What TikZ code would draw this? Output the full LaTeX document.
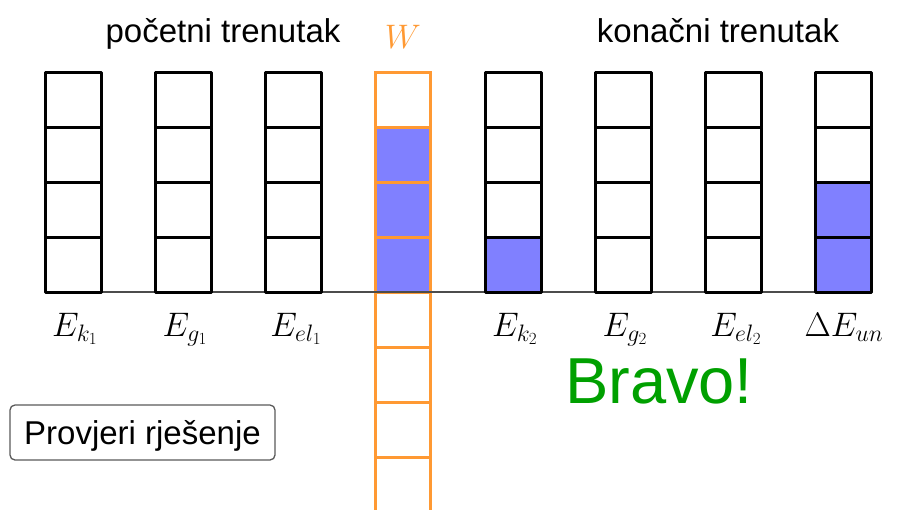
\RequirePackage{fix-cm}
\documentclass[tikz,border=0pt]{standalone}
\usepackage{fontspec}
\setmainfont{Liberation Sans}
\definecolor{wOrange}{RGB}{255,153,51}
\definecolor{fillBlue}{RGB}{128,128,255}
\definecolor{bravoGreen}{RGB}{0,160,0}
\begin{document}
\begin{tikzpicture}[x=1pt,y=-1pt,
  cellbox/.style={draw=black,line width=3pt,line join=round},
  wbox/.style={draw=wOrange,line width=3pt},
  filled/.style={fill=fillBlue},
  mathlabel/.style={anchor=base,font=\fontsize{34}{40}\selectfont},
  title/.style={anchor=base,font=\fontsize{33}{40}\selectfont},
  button/.style={draw=black!65,rounded corners=5pt,line width=1.3pt,minimum width=265pt,minimum height=55pt,inner sep=0pt,text depth=0pt,font=\fontsize{33}{40}\selectfont}]
\useasboundingbox (0,0) rectangle (902,509);
% fills
\fill[filled] (375,127) rectangle (430,292);
\fill[filled] (485,237) rectangle (541,292);
\fill[filled] (815,182) rectangle (871,292);
% W column
\foreach \y in {72,127,182,237,292,347,402,457}
  \draw[wbox] (375,\y) rectangle ++(55,55);
% baseline
\draw[black!70,line width=2pt] (45,292) -- (871,292);
% energy columns
\foreach \x in {45,155,265,485,595,705,815}
  \foreach \y in {72,127,182,237}
    \draw[cellbox] (\x,\y) rectangle ++(56,55);
% titles
\node[title] (poc) at (223,42) {početni trenutak};
\node[title] (kon) at (718,42) {konačni trenutak};
\node[mathlabel,text=wOrange] (w) at (403,48) {$W$};
% labels
\node[mathlabel] (ek1) at (75,336) {$E_{k_1}$};
\node[mathlabel] (eg1) at (185,336) {$E_{g_1}$};
\node[mathlabel] (eel1) at (296,336) {$E_{el_1}$};
\node[mathlabel] (ek2) at (515,336) {$E_{k_2}$};
\node[mathlabel] (eg2) at (625,336) {$E_{g_2}$};
\node[mathlabel] (eel2) at (736,336) {$E_{el_2}$};
\node[mathlabel] (deun) at (844,336) {$\Delta E_{un}$};
% bravo
\node[anchor=base,text=bravoGreen,font=\fontsize{65}{78}\selectfont] (bravo) at (659,403) {Bravo!};
% button
\node[button] (btn) at (142.5,432.5) {Provjeri rješenje};
\end{tikzpicture}
\end{document}
